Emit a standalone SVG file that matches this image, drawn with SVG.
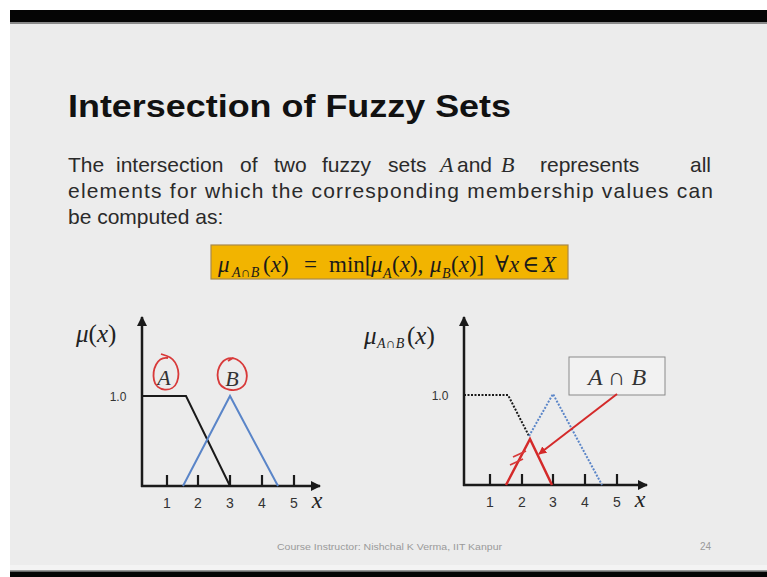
<svg xmlns="http://www.w3.org/2000/svg" width="767" height="577" viewBox="0 0 767 577">
  <style>
    .sans{font-family:"Liberation Sans",Arial,sans-serif}
    .serif{font-family:"Liberation Serif","DejaVu Serif",serif}
    .it{font-style:italic}
    .body{font-size:21px;fill:#2a2a2a}
    .tick{font-size:14px;fill:#333}
    .ax{stroke:#1a1a1a;stroke-width:2.5;fill:none}
    .tk{stroke:#1a1a1a;stroke-width:2.2}
    .blk{stroke:#1a1a1a;stroke-width:2;fill:none}
    .blu{stroke:#5a85c8;stroke-width:2;fill:none}
    .red{stroke:#d42a2a;stroke-width:2.5;fill:none}
    .redthin{stroke:#d83a3a;stroke-width:1.8;fill:none}
    .dotk{stroke:#1a1a1a;stroke-width:2;stroke-dasharray:2 1.5;fill:none}
    .dotb{stroke:#5a85c8;stroke-width:2;stroke-dasharray:2 1.5;fill:none}
  </style>
  <defs>
    <marker id="axhead" viewBox="0 0 10 10" refX="9" refY="5" markerWidth="4" markerHeight="4" orient="auto" markerUnits="strokeWidth">
      <path d="M0,0 L10,5 L0,10 Z" fill="#1a1a1a"/>
    </marker>
    <marker id="redhead" viewBox="0 0 10 10" refX="9" refY="5" markerWidth="4" markerHeight="4" orient="auto" markerUnits="strokeWidth">
      <path d="M0,0 L10,5 L0,10 Z" fill="#d42a2a"/>
    </marker>
  </defs>

  <!-- frame -->
  <rect x="0" y="0" width="767" height="577" fill="#ffffff"/>
  <rect x="10" y="10" width="757" height="12" fill="#050505"/>
  <rect x="10" y="22" width="757" height="2" fill="#8a8a8a"/>
  <rect x="10" y="24" width="757" height="543" fill="#ececec"/>
  <rect x="10" y="565" width="757" height="5" fill="#f3f3f3"/>
  <rect x="10" y="570" width="757" height="1.5" fill="#9a9a9a"/>
  <rect x="10" y="571.5" width="757" height="6" fill="#050505"/>

  <g id="title">
    <text x="68" y="117" class="sans" font-weight="bold" font-size="32" fill="#111" textLength="443" lengthAdjust="spacingAndGlyphs">Intersection of Fuzzy Sets</text>
  </g>

  <g id="body" class="sans body">
    <text y="172"><tspan x="68">The</tspan><tspan x="116">intersection</tspan><tspan x="240">of</tspan><tspan x="274">two</tspan><tspan x="322">fuzzy</tspan><tspan x="388">sets</tspan><tspan x="440" class="serif it" font-size="22">A</tspan><tspan x="457">and</tspan><tspan x="501" class="serif it" font-size="22">B</tspan><tspan x="540">represents</tspan><tspan x="690">all</tspan></text>
    <text x="68" y="198" textLength="645" lengthAdjust="spacing">elements for which the corresponding membership values can</text>
    <text x="68" y="224">be computed as:</text>
  </g>

  <g id="formula">
    <rect x="211" y="245" width="357" height="34" fill="#f2b400" stroke="#a8894a" stroke-width="1.2"/>
    <text class="serif" font-size="23" fill="#1a1a1a" y="272">
      <tspan x="218" class="it">μ</tspan><tspan x="232" y="277" font-size="14" class="it">A∩B</tspan><tspan x="263" y="272">(</tspan><tspan class="it">x</tspan><tspan>)</tspan><tspan x="304">=</tspan><tspan x="329">min[</tspan><tspan x="371" class="it">μ</tspan><tspan x="383" y="278" font-size="14" class="it">A</tspan><tspan x="392" y="272">(</tspan><tspan class="it">x</tspan><tspan>),</tspan><tspan x="430" class="it">μ</tspan><tspan x="442" y="278" font-size="14" class="it">B</tspan><tspan x="451" y="272">(</tspan><tspan class="it">x</tspan><tspan>)]</tspan><tspan x="495">∀</tspan><tspan class="it">x</tspan><tspan x="522">∈</tspan><tspan x="542" class="it">X</tspan>
    </text>
  </g>

  <g id="chart-left">
    <text class="serif" font-size="25" fill="#222" y="342"><tspan x="76" class="it">μ</tspan><tspan>(</tspan><tspan class="it">x</tspan><tspan>)</tspan></text>
    <line x1="142" y1="487" x2="142" y2="317" class="ax" marker-end="url(#axhead)"/>
    <line x1="141" y1="486" x2="320" y2="486" class="ax" marker-end="url(#axhead)"/>
    <g class="tk">
      <line x1="167" y1="475" x2="167" y2="486"/>
      <line x1="198" y1="475" x2="198" y2="486"/>
      <line x1="230" y1="475" x2="230" y2="486"/>
      <line x1="262" y1="475" x2="262" y2="486"/>
      <line x1="294" y1="475" x2="294" y2="486"/>
    </g>
    <g class="sans tick" text-anchor="middle">
      <text x="167" y="508">1</text>
      <text x="198" y="508">2</text>
      <text x="230" y="508">3</text>
      <text x="262" y="508">4</text>
      <text x="294" y="508">5</text>
      <text x="118" y="401" font-size="12">1.0</text>
    </g>
    <text x="317" y="508" class="serif it" font-size="24" fill="#222" text-anchor="middle">x</text>
    <polyline points="142,396 186,396 230,486" class="blk"/>
    <polyline points="183,486 230,396 278,486" class="blu"/>
    <text x="164" y="385" class="serif it" font-size="22" fill="#333" text-anchor="middle">A</text>
    <text x="232" y="386" class="serif it" font-size="22" fill="#333" text-anchor="middle">B</text>
    <path d="M168,358 C157,356 152,370 154,380 C156,392 173,393 177,382 C181,371 176,359 167,356 L161,354" class="redthin"/>
    <path d="M236,359 C223,355 216,368 218,379 C220,391 238,394 245,384 C250,373 244,361 233,358 L228,361" class="redthin"/>
  </g>

  <g id="chart-right">
    <text class="serif" fill="#222" y="344"><tspan x="364" class="it" font-size="25">μ</tspan><tspan x="377" y="348" font-size="14" class="it">A∩B</tspan><tspan x="407" y="344" font-size="25">(</tspan><tspan class="it" font-size="25">x</tspan><tspan font-size="25">)</tspan></text>
    <line x1="464" y1="486" x2="464" y2="317" class="ax" marker-end="url(#axhead)"/>
    <line x1="463" y1="485" x2="647" y2="485" class="ax" marker-end="url(#axhead)"/>
    <g class="tk">
      <line x1="490" y1="474" x2="490" y2="485"/>
      <line x1="522" y1="474" x2="522" y2="485"/>
      <line x1="553" y1="474" x2="553" y2="485"/>
      <line x1="585" y1="474" x2="585" y2="485"/>
      <line x1="617" y1="474" x2="617" y2="485"/>
    </g>
    <g class="sans tick" text-anchor="middle">
      <text x="490" y="507">1</text>
      <text x="522" y="507">2</text>
      <text x="553" y="507">3</text>
      <text x="585" y="507">4</text>
      <text x="617" y="507">5</text>
      <text x="440" y="400" font-size="12">1.0</text>
    </g>
    <text x="640" y="507" class="serif it" font-size="24" fill="#222" text-anchor="middle">x</text>
    <polyline points="464,395 508,395 529,436" class="dotk"/>
    <polyline points="529,436 553,394 602,485" class="dotb"/>
    <polyline points="506,485 530,439 552,485" class="red"/>
    <line x1="513" y1="457" x2="526" y2="451" class="redthin"/>
    <line x1="510" y1="465" x2="523" y2="459" class="redthin"/>
  </g>

  <g id="label-box">
    <rect x="569" y="357" width="96" height="38" fill="#f2f2f2" stroke="#8a8a8a" stroke-width="1"/>
    <text x="617" y="385" class="serif it" font-size="24" fill="#333" text-anchor="middle">A ∩ B</text>
  </g>

  <g id="connectors">
    <line x1="617" y1="394" x2="539" y2="454" stroke="#d42a2a" stroke-width="2" marker-end="url(#redhead)"/>
  </g>

  <g id="footer" class="sans" fill="#9a9a9a" font-size="9">
    <text x="277" y="550" textLength="225" lengthAdjust="spacingAndGlyphs">Course Instructor: Nishchal K Verma, IIT Kanpur</text>
    <text x="700" y="550" font-size="10">24</text>
  </g>
</svg>
